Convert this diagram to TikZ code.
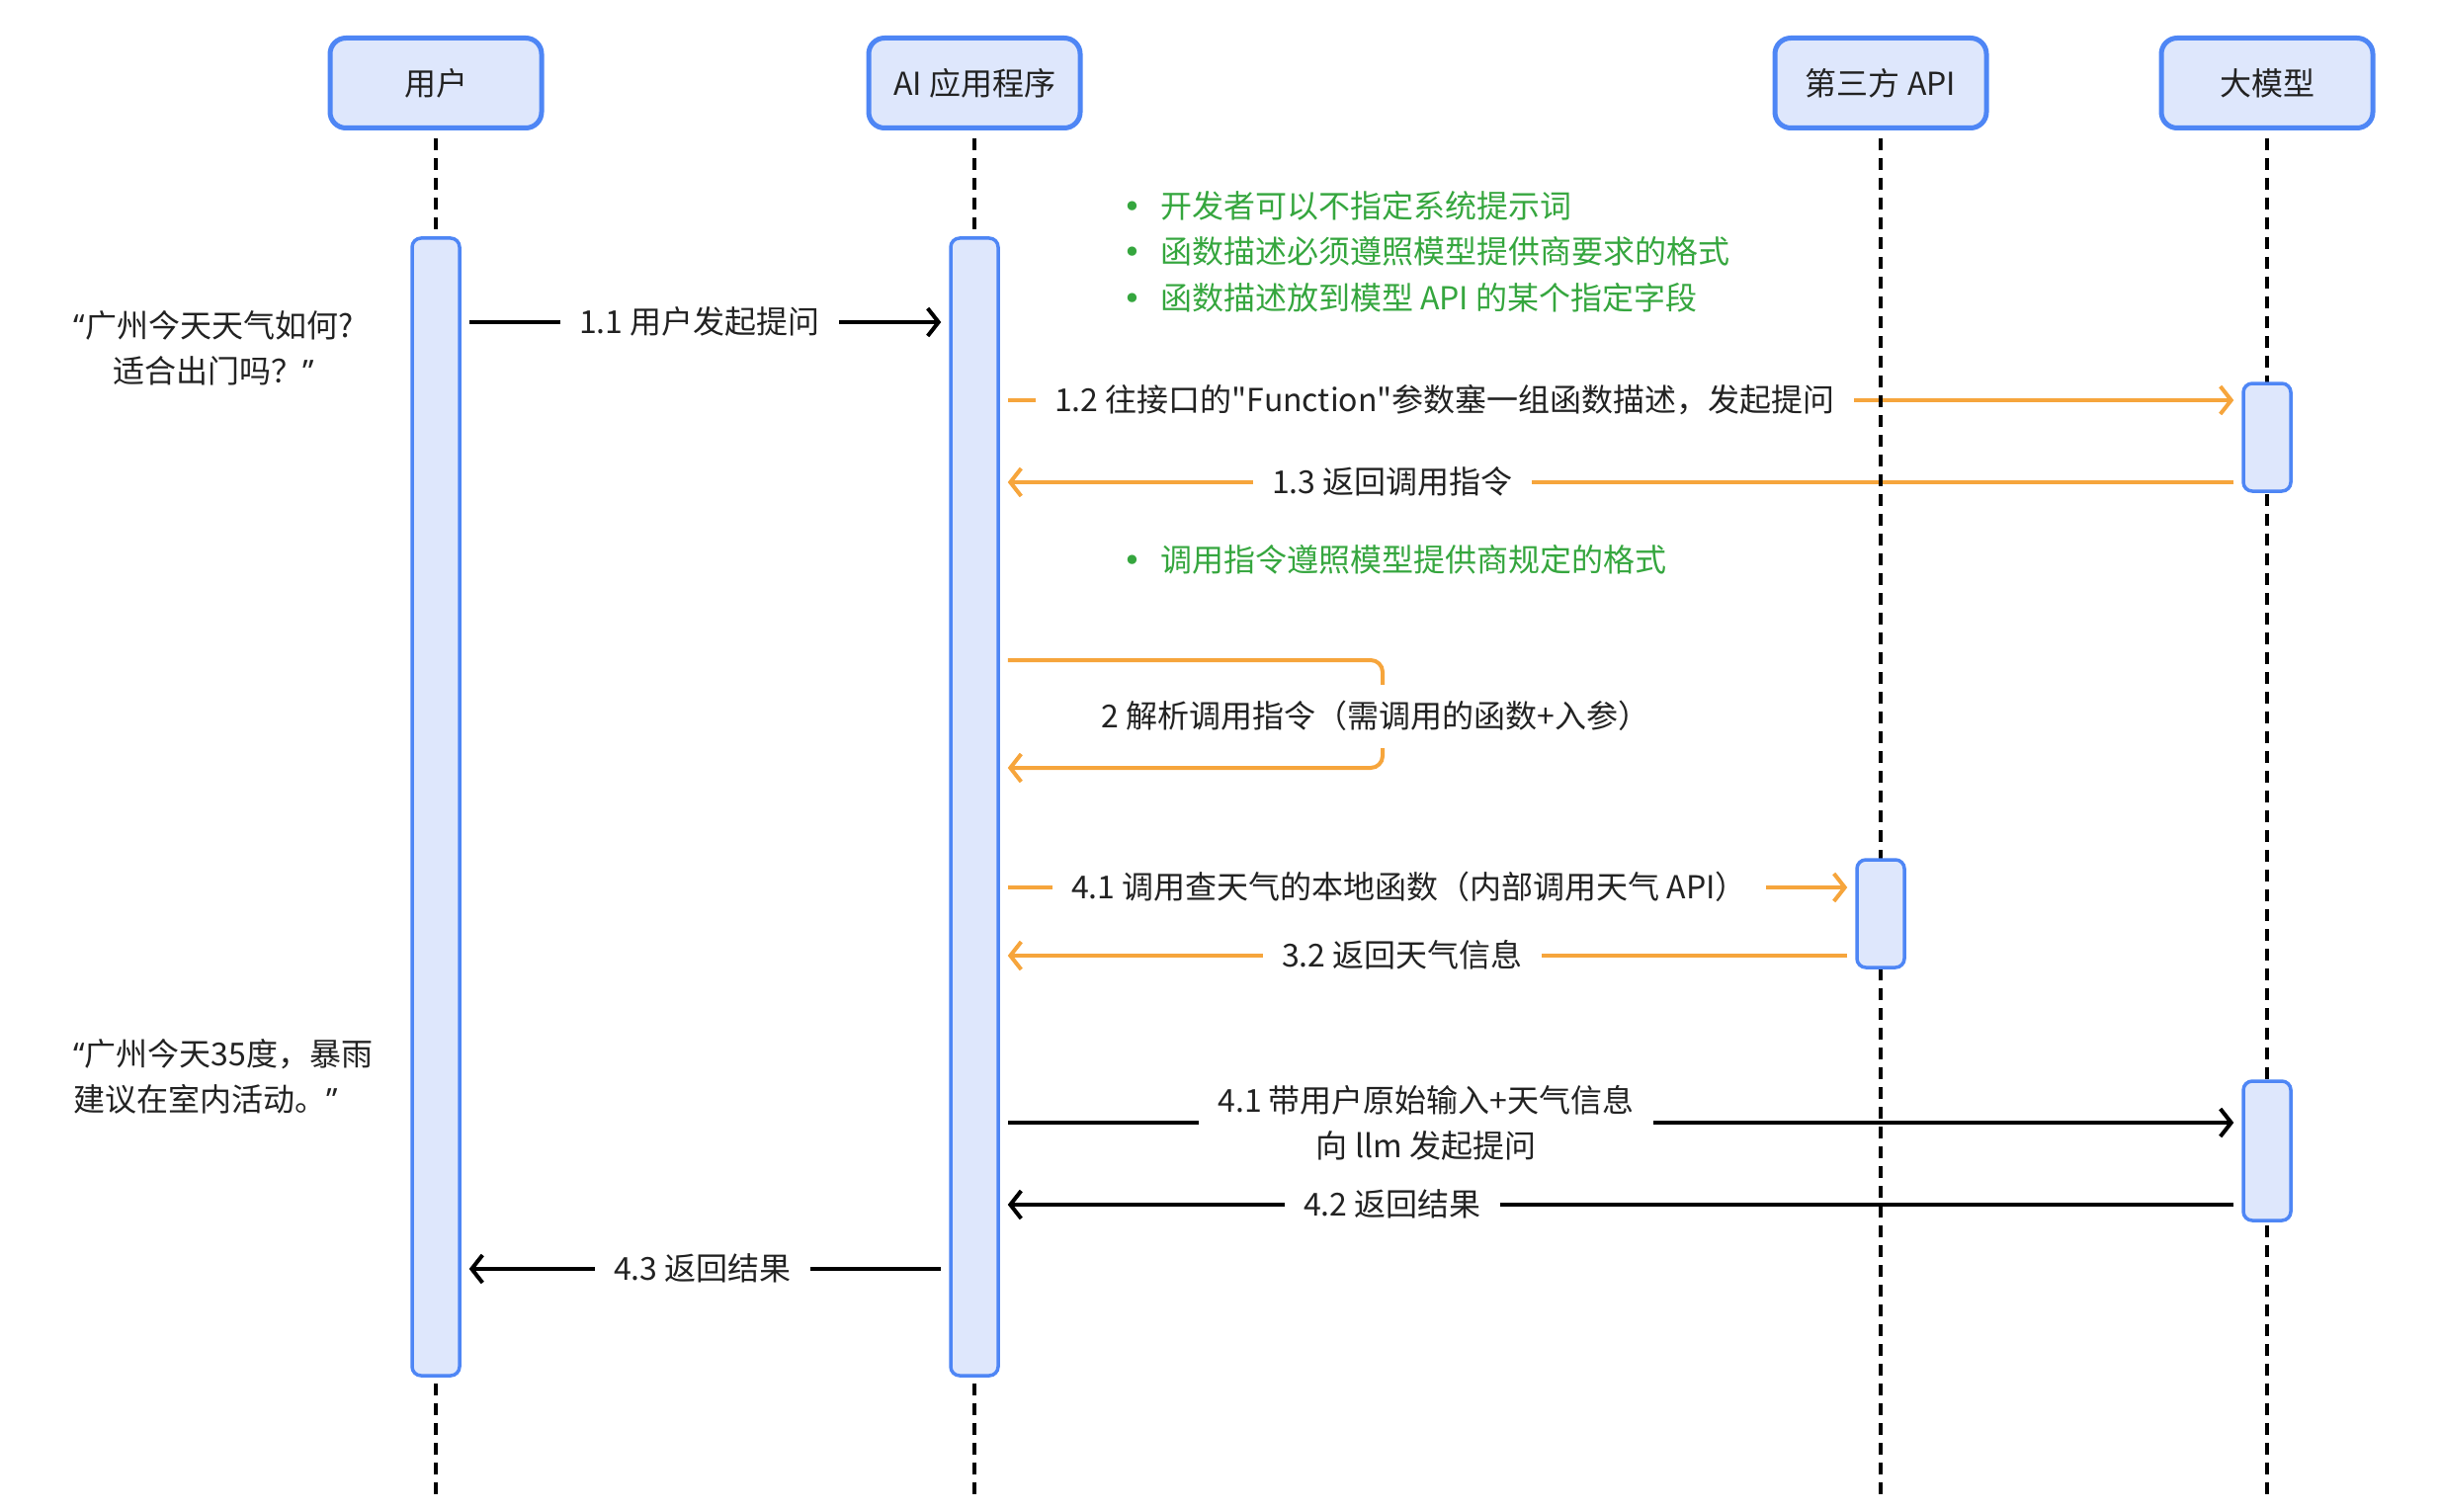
\documentclass[tikz,border=0pt]{standalone}
\usepackage{fontspec}
\setmainfont{Noto Sans CJK SC}[Ligatures=TeXOff]
\newfontfamily\dvfont{DejaVu Sans}
\newfontfamily\latfont{Noto Sans}[Ligatures=TeXOff]
\usetikzlibrary{arrows.meta}
\definecolor{bordblue}{HTML}{4E86F5}
\definecolor{fillblue}{HTML}{DEE7FC}
\definecolor{orng}{HTML}{F6A53C}
\definecolor{grn}{HTML}{35A63E}
\definecolor{txt}{HTML}{222222}
\pgfdeclarelayer{msgs}
\pgfdeclarelayer{lifel}
\pgfsetlayers{msgs,lifel,main}
\begin{document}
\begin{tikzpicture}[x=1pt,y=-1pt,
  every node/.style={font=\fontsize{32pt}{46pt}\selectfont, text=txt},
  actor/.style={draw=bordblue, fill=fillblue, line width=5pt, rounded corners=16pt,
    minimum width=214pt, minimum height=91pt, inner sep=0pt},
  actbar/.style={draw=bordblue, fill=fillblue, line width=3.5pt, rounded corners=9pt,
    minimum width=48pt, inner sep=0pt},
  life/.style={draw=black, line width=3.5pt, dash pattern=on 12pt off 8pt},
  msgk/.style={draw=black, line width=4pt, -{Straight Barb[length=11pt,width=28pt]},
    shorten >=8pt, shorten <=8pt},
  msgo/.style={msgk, draw=orng},
  lbl/.style={fill=white, inner xsep=19pt, inner ysep=2pt, text height=28pt, text depth=6pt},
  lbltwo/.style={fill=white, inner xsep=19pt, inner ysep=2pt, align=center},
  gtxt/.style={anchor=west, inner sep=0pt, text=grn, text height=28pt, text depth=6pt},
]
\path[use as bounding box] (0,0) rectangle (2470,1530);
\coordinate (bot) at (0,1512);

% actors
\node[actor] (hu) at (441,84) {用户};
\node[actor] (ha) at (986,84) {AI 应用程序};
\node[actor] (ht) at (1903,84) {第三方 API};
\node[actor] (hl) at (2294,84) {大模型};

% activation bars
\node[actbar, minimum height=1151pt] (ubar) at (441,816.5) {};
\node[actbar, minimum height=1151pt] (aibar) at (986,816.5) {};
\node[actbar, minimum height=109pt] (lbar1) at (2294,442.5) {};
\node[actbar, minimum height=109pt] (tbar) at (1903,924.5) {};
\node[actbar, minimum height=141pt] (lbar2) at (2294,1164.5) {};

% lifelines
\begin{pgfonlayer}{lifel}
\draw[life] ([yshift=-8pt]hu.south) -- (hu.south |- bot);
\draw[life] ([yshift=-8pt]ha.south) -- (ha.south |- bot);
\draw[life] ([yshift=-8pt]ht.south) -- (ht.south |- bot);
\draw[life] ([yshift=-8pt]hl.south) -- (hl.south |- bot);
\end{pgfonlayer}

% messages
\begin{pgfonlayer}{msgs}
\draw[msgk] (ubar.east |- 0,326) -- (aibar.west |- 0,326);
\node[lbl] (l11) at (708,326) {1.1 用户发起提问};

\draw[msgo] (aibar.east |- 0,405) -- (lbar1.west |- 0,405);
\node[lbl] (l12) at (1462,405) {1.2 往接口的"Function"参数塞一组函数描述，发起提问};

\draw[msgo] (lbar1.west |- 0,488) -- (aibar.east |- 0,488);
\node[lbl] (l13) at (1409,488) {1.3 返回调用指令};

\draw[msgo, rounded corners=12pt] (aibar.east |- 0,668) -- (1399,668) -- (1399,777) -- (aibar.east |- 0,777);
\node[lbl, inner ysep=15pt] (l2) at (1392,725) {2 解析调用指令（需调用的函数+入参）};

\draw[msgo] (aibar.east |- 0,898) -- (tbar.west |- 0,898);
\node[lbl] (l41a) at (1426,898) {4.1 调用查天气的本地函数（内部调用天气 API）};

\draw[msgo] (tbar.west |- 0,967) -- (aibar.east |- 0,967);
\node[lbl] (l32) at (1419,967) {3.2 返回天气信息};

\draw[msgk] (aibar.east |- 0,1136) -- (lbar2.west |- 0,1136);
\node[lbltwo] (l41b) at (1443,1136) {4.1 带用户原始输入+天气信息\\向 llm 发起提问};

\draw[msgk] (lbar2.west |- 0,1219) -- (aibar.east |- 0,1219);
\node[lbl] (l42) at (1409,1219) {4.2 返回结果};

\draw[msgk] (aibar.west |- 0,1284) -- (ubar.east |- 0,1284);
\node[lbl] (l43) at (711,1284) {4.3 返回结果};
\end{pgfonlayer}

% green notes
\node[gtxt] (g1) at (1136,210) {{\dvfont •}\hspace{19pt}开发者可以不指定系统提示词};
\node[gtxt] (g2) at (1136,256) {{\dvfont •}\hspace{19pt}函数描述必须遵照模型提供商要求的格式};
\node[gtxt] (g3) at (1136,302) {{\dvfont •}\hspace{19pt}函数描述放到模型 API 的某个指定字段};
\node[gtxt] (g4) at (1136,567) {{\dvfont •}\hspace{19pt}调用指令遵照模型提供商规定的格式};

% user texts
\node[align=center] (q1) at (216,352) {{\latfont “}广州今天天气如何?\\适合出门吗？{\latfont ”}};
\node[align=left, anchor=west, inner sep=0pt] (a1) at (74,1089) {{\latfont “}广州今天35度，暴雨\\建议在室内活动。{\latfont ”}};
\end{tikzpicture}
\end{document}
